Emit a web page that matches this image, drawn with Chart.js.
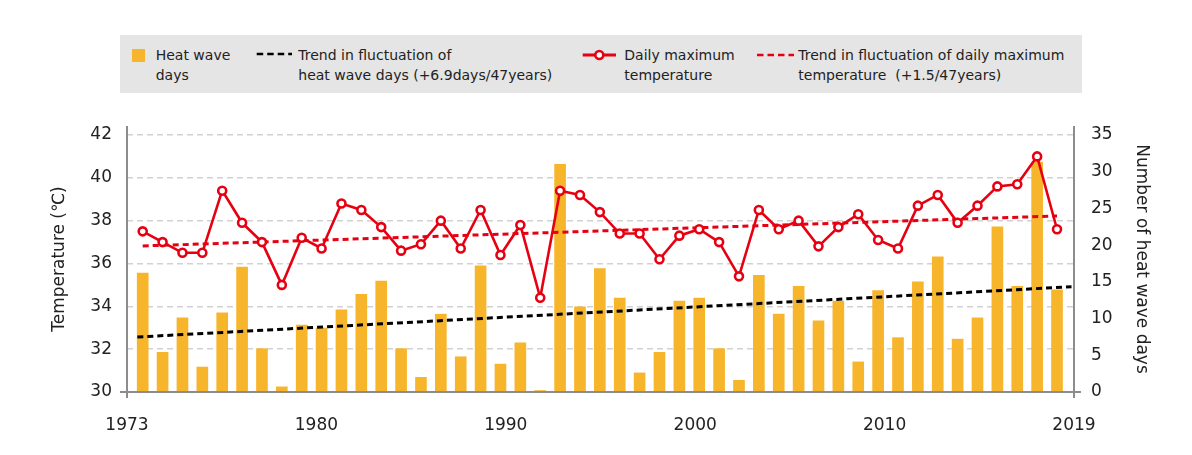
<!DOCTYPE html>
<html><head><meta charset="utf-8">
<script src="https://cdn.jsdelivr.net/npm/chart.js@4/dist/chart.umd.min.js"></script>
<style>
html,body{margin:0;padding:0;background:#fff;}
#wrap{position:relative;width:1192px;height:455px;font-family:'DejaVu Sans',sans-serif;color:#222;}
canvas{position:absolute;left:0;top:0;}
#legend{position:absolute;left:120px;top:35px;width:962px;height:58px;background:#e5e5e5;}
.lt{position:absolute;top:10px;font-size:14px;line-height:20px;white-space:pre;}
.ls{position:absolute;}
</style></head>
<body><div id="wrap"><canvas id="c" width="1192" height="455"></canvas><div id="legend"></div></div>
<script>
// ---- data ----
const years = [1973,1974,1975,1976,1977,1978,1979,1980,1981,1982,1983,1984,1985,1986,1987,1988,1989,1990,1991,1992,1993,1994,1995,1996,1997,1998,1999,2000,2001,2002,2003,2004,2005,2006,2007,2008,2009,2010,2011,2012,2013,2014,2015,2016,2017,2018,2019];
const heatWaveDays = [16.2,5.4,10.1,3.4,10.8,17.0,5.9,0.7,9.1,8.7,11.2,13.3,15.1,5.9,2.0,10.6,4.8,17.2,3.8,6.7,0.2,31.0,11.6,16.8,12.8,2.6,5.4,12.4,12.8,5.9,1.6,15.9,10.6,14.4,9.7,12.4,4.1,13.8,7.4,15.0,18.4,7.2,10.1,22.5,14.4,31.3,13.9];
const maxTemp = [37.5,37.0,36.5,36.5,39.4,37.9,37.0,35.0,37.2,36.7,38.8,38.5,37.7,36.6,36.9,38.0,36.7,38.5,36.4,37.8,34.4,39.4,39.2,38.4,37.4,37.4,36.2,37.3,37.6,37.0,35.4,38.5,37.6,38.0,36.8,37.7,38.3,37.1,36.7,38.7,39.2,37.9,38.7,39.6,39.7,41.0,37.6];
const trendDaysX = [1972.73, 2019.73];
const trendDaysY = [7.49, 14.34];
const trendTempX = [1973, 2019];
const trendTempY = [36.82, 38.22];
const xTickLabels = ['1973','1980','1990','2000','2010','2019'];
const leftTicks = [30,32,34,36,38,40,42];
const rightTicks = [0,5,10,15,20,25,30,35];
const seriesNames = ['Heat wave\ndays','Trend in fluctuation of\nheat wave days (+6.9days/47years)','Daily maximum\ntemperature','Trend in fluctuation of daily maximum\ntemperature\u00a0 (+1.5/47years)'];
const axisTitles = ['Temperature (\u2103)','Number of heat wave days'];

// ---- styles ----
const BAR = '#f7b52c', RED = '#e60012', BLACK = '#000000';

// ---- legend (HTML) ----
const lg = document.getElementById('legend');
function addText(left, txt){ const d=document.createElement('div'); d.className='lt'; d.style.left=left+'px'; d.textContent=txt; lg.appendChild(d); }
function addSvg(left, top, w, h, inner){ const s=document.createElementNS('http://www.w3.org/2000/svg','svg'); s.setAttribute('class','ls'); s.setAttribute('width',w); s.setAttribute('height',h); s.style.left=left+'px'; s.style.top=top+'px'; s.innerHTML=inner; lg.appendChild(s); }
addSvg(12,14,13,13,'<rect x="0" y="0" width="13" height="13" fill="'+BAR+'"/>');
addText(35.7, seriesNames[0]);
addSvg(136,15,36,8,'<line x1="0.7" y1="4" x2="36" y2="4" stroke="'+BLACK+'" stroke-width="2.6" stroke-dasharray="6.5 4"/>');
addText(178.3, seriesNames[1]);
addSvg(462,13,35,14,'<line x1="0.7" y1="7" x2="34" y2="7" stroke="'+RED+'" stroke-width="3"/><circle cx="17.3" cy="7" r="4" fill="#fff" stroke="'+RED+'" stroke-width="2.6"/>');
addText(504.3, seriesNames[2]);
addSvg(636.7,16,37,8,'<line x1="0" y1="4" x2="37" y2="4" stroke="'+RED+'" stroke-width="2.6" stroke-dasharray="6.5 4"/>');
addText(678.3, seriesNames[3]);

// ---- chart ----
Chart.defaults.font.family = "'DejaVu Sans', sans-serif";
Chart.defaults.color = '#222';

const axisLines = {
  id: 'axisLines',
  afterDatasetsDraw(chart){
    const {ctx, chartArea: a} = chart;
    ctx.save();
    ctx.strokeStyle = '#8c8c8c';
    ctx.lineWidth = 2;
    ctx.beginPath();
    ctx.moveTo(a.left, a.top); ctx.lineTo(a.left, a.bottom + 6);
    ctx.moveTo(a.right, a.top); ctx.lineTo(a.right, a.bottom + 6);
    ctx.moveTo(a.left - 7, a.bottom); ctx.lineTo(a.right + 7, a.bottom);
    ctx.stroke();
    ctx.restore();
  }
};

new Chart(document.getElementById('c'), {
  data: {
    datasets: [
      { type:'line', label: seriesNames[2], yAxisID:'y', xAxisID:'x',
        data: years.map((y,i)=>({x:y, y:maxTemp[i]})),
        borderColor: RED, borderWidth: 2.6, pointRadius: 4, pointBorderWidth: 2.6,
        pointBackgroundColor:'#fff', pointBorderColor: RED, tension:0, order:1 },
      { type:'line', label: seriesNames[3], yAxisID:'y', xAxisID:'x',
        data: trendTempX.map((x,i)=>({x, y:trendTempY[i]})),
        borderColor: RED, borderWidth: 3, borderDash:[6,4], pointRadius:0, order:2 },
      { type:'line', label: seriesNames[1], yAxisID:'y1', xAxisID:'x',
        data: trendDaysX.map((x,i)=>({x, y:trendDaysY[i]})),
        borderColor: BLACK, borderWidth: 3, borderDash:[6,4], pointRadius:0, order:3 },
      { type:'bar', label: seriesNames[0], yAxisID:'y1', xAxisID:'x',
        data: years.map((y,i)=>({x:y, y:heatWaveDays[i]})),
        backgroundColor: BAR, barThickness: 11, order:4 }
    ]
  },
  options: {
    responsive:false, animation:false,
    layout:{ padding:{ top:126, left:0, right:0, bottom:0 } },
    plugins:{ legend:{display:false}, tooltip:{enabled:false} },
    scales:{
      x:{ type:'linear', display:false, offset:false, min:1972.21, max:2019.855 },
      xl:{ type:'linear', position:'bottom', offset:false, min:0, max:5,
        grid:{display:false, drawTicks:false}, border:{display:false},
        ticks:{ stepSize:1, padding:23, maxRotation:0, font:{size:17}, color:'#222',
          callback:(v)=> xTickLabels[v] },
        afterFit:(s)=>{ s.height = 63; } },
      y:{ type:'linear', position:'left', min:30, max:42.42,
        afterBuildTicks:(s)=>{ s.ticks = leftTicks.map(v=>({value:v})); },
        grid:{ color:'#d2d2d2', lineWidth:1.5, drawTicks:false },
        border:{ display:false, dash:[6,4] },
        ticks:{ padding:15, font:{size:17}, color:'#222' },
        title:{ display:true, text:axisTitles[0], font:{size:17}, color:'#222', padding:{top:49} },
        afterFit:(s)=>{ s.width = 127; } },
      y1:{ type:'linear', position:'right', min:0, max:36.23,
        afterBuildTicks:(s)=>{ s.ticks = rightTicks.map(v=>({value:v})); },
        grid:{ display:false, drawTicks:false }, border:{display:false},
        ticks:{ padding:17, font:{size:17}, color:'#222' },
        title:{ display:true, text:axisTitles[1], font:{size:17}, color:'#222', padding:{top:40} },
        afterFit:(s)=>{ s.width = 118; } }
    }
  },
  plugins:[axisLines]
});
</script>
</body></html>
